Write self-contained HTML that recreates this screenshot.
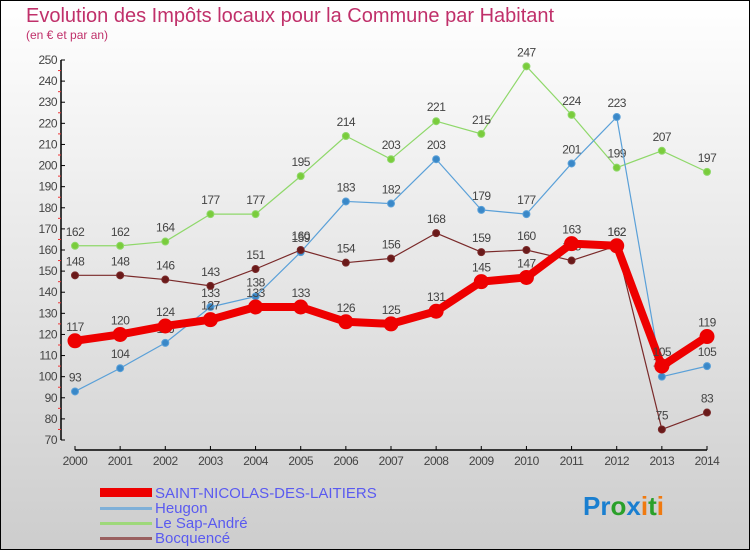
<!DOCTYPE html>
<html><head><meta charset="utf-8"><style>
body{margin:0;}
#c{width:750px;height:550px;position:relative;overflow:hidden;}
text{font-family:"Liberation Sans",sans-serif;}
</style></head><body>
<div id="c">
<svg id="s" width="750" height="550" xmlns="http://www.w3.org/2000/svg">
<defs><linearGradient id="bg" x1="0" y1="0" x2="0" y2="1"><stop offset="0" stop-color="#ffffff"/><stop offset="1" stop-color="#cdcdcd"/></linearGradient></defs>
<rect x="0.5" y="0.5" width="749" height="549" fill="url(#bg)" stroke="#000"/>
<text x="26" y="22" font-size="20" fill="#c0306a">Evolution des Impôts locaux pour la Commune par Habitant</text>
<text x="26" y="39" font-size="12" fill="#c0306a">(en € et par an)</text>
<g id="axes"></g><g id="series"></g>
<g>
<rect x="100" y="488" width="52" height="9" fill="#e00"/>
<text x="155" y="498" font-size="15" fill="#5a5af0">SAINT-NICOLAS-DES-LAITIERS</text>
<rect x="100" y="507" width="52" height="3" fill="#7fb0d8"/>
<text x="155" y="513" font-size="15" fill="#5a5af0">Heugon</text>
<rect x="100" y="522" width="52" height="3" fill="#9ed87a"/>
<text x="155" y="528" font-size="15" fill="#5a5af0">Le Sap-André</text>
<rect x="100" y="537" width="52" height="3" fill="#9a6060"/>
<text x="155" y="543" font-size="15" fill="#5a5af0">Bocquencé</text>
</g>
<text x="583" y="515" font-size="26" font-weight="bold"><tspan fill="#1a7fd0">Pr</tspan><tspan fill="#2aa02a">o</tspan><tspan fill="#1a7fd0">x</tspan><tspan fill="#f07a10">i</tspan><tspan fill="#2aa02a">t</tspan><tspan fill="#f07a10">i</tspan></text>
</svg>
</div>
<script>
const years=[2000,2001,2002,2003,2004,2005,2006,2007,2008,2009,2010,2011,2012,2013,2014];
const yTicks=[70,80,90,100,110,120,130,140,150,160,170,180,190,200,210,220,230,240,250];
const saintNicolas=[117,120,124,127,133,133,126,125,131,145,147,163,162,105,119];
const heugon=[93,104,116,133,138,159,183,182,203,179,177,201,223,100,105];
const leSapAndre=[162,162,164,177,177,195,214,203,221,215,247,224,199,207,197];
const bocquence=[148,148,146,143,151,160,154,156,168,159,160,155,162,75,83];
const NS='http://www.w3.org/2000/svg';
function xS(i){return 75+i*(632/14);}
function yS(v){return 440-(v-70)*(380/180);}
function mk(t,a,p){const e=document.createElementNS(NS,t);for(const k in a)e.setAttribute(k,a[k]);p.appendChild(e);return e;}
const ax=document.getElementById('axes');
let l=mk('line',{x1:61,y1:yS(250),x2:61,y2:440,stroke:'#000','stroke-width':1.5},ax);


l=mk('line',{x1:75,y1:450,x2:707,y2:450,stroke:'#000','stroke-width':1.5},ax);


yTicks.forEach(v=>{
 mk('line',{x1:61,y1:yS(v),x2:65,y2:yS(v),stroke:'#000'},ax);
 if(v<250) mk('line',{x1:58,y1:yS(v+5),x2:61,y2:yS(v+5),stroke:'#e33'},ax);
 const t=mk('text',{x:57,y:yS(v)+4,'font-size':12,'text-anchor':'end',fill:'#444','letter-spacing':'-0.5'},ax);
 t.textContent=v;
 
 
});
years.forEach((y,i)=>{
 mk('line',{x1:xS(i),y1:446,x2:xS(i),y2:450,stroke:'#000'},ax);
 const t=mk('text',{x:xS(i),y:465,'font-size':12,'text-anchor':'middle',fill:'#444','letter-spacing':'-0.5'},ax);
 t.textContent=y;
 
 
});
const sg=document.getElementById('series');
function draw(vals,name,col,dot,w,r){
 const g=mk('g',{},sg);
 
 
 const pl=mk('polyline',{points:vals.map((v,i)=>xS(i)+','+yS(v)).join(' '),fill:'none',stroke:col,'stroke-width':w,'stroke-linejoin':'round'},g);
 
 
 vals.forEach((v,i)=>{
  const c=mk('circle',{cx:xS(i),cy:yS(v),r:r,fill:dot,stroke:col,'stroke-width':1},g);
  
  
  const t=mk('text',{x:xS(i),y:yS(v)-10,'font-size':12,'text-anchor':'middle',fill:'#444','letter-spacing':'-0.5'},g);
  t.textContent=v;
  
  
 });
}
draw(leSapAndre,'le-sap-andre','#8fd86a','#7acc3c',1.2,3.5);
draw(heugon,'heugon','#5aa0d8','#3a88c8',1.2,3.5);
draw(bocquence,'bocquence','#7a2a2a','#6a1a1a',1.2,3.5);
draw(saintNicolas,'saint-nicolas','#ee0000','#ee0000',8,7);
</script>
</body></html>
